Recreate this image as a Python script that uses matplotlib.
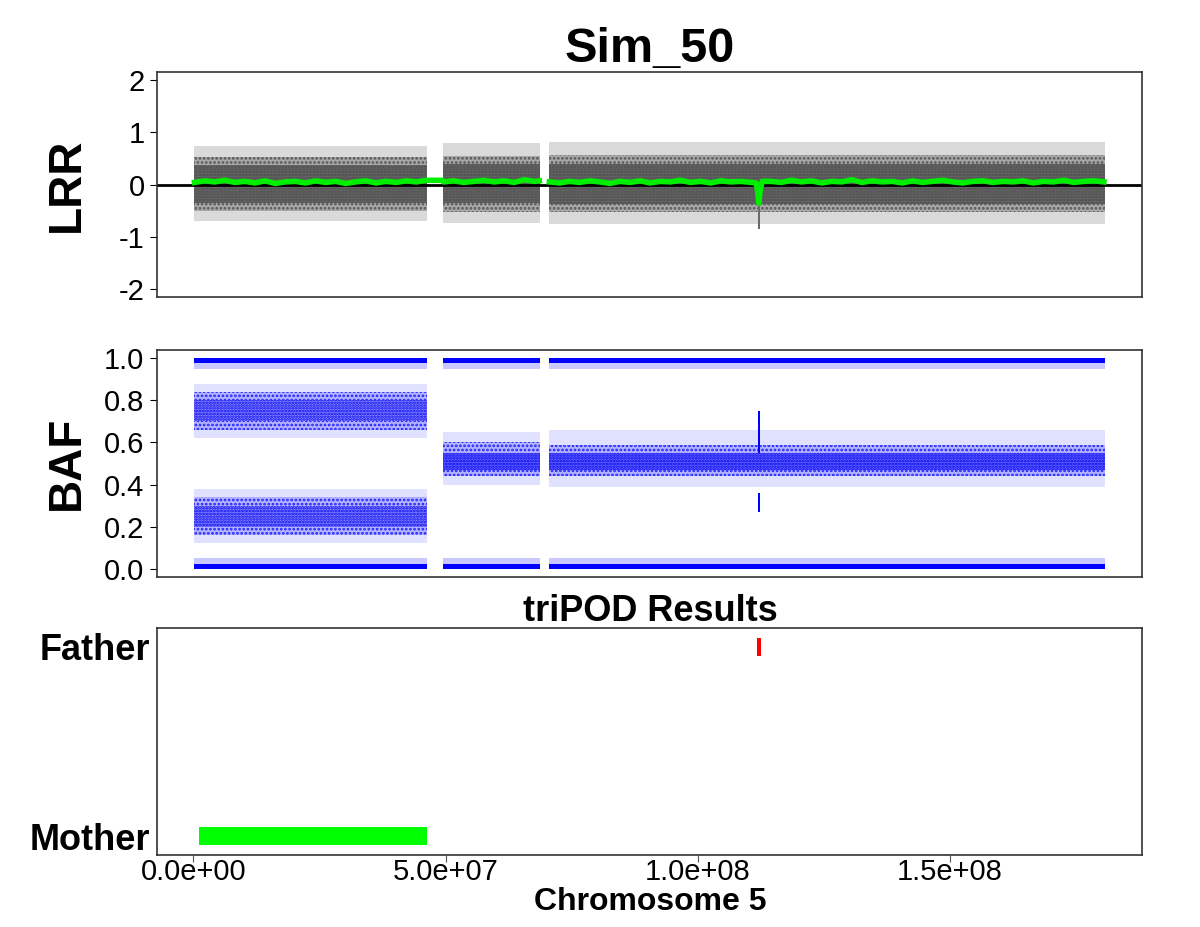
import matplotlib
matplotlib.use("Agg")
import matplotlib.pyplot as plt
import numpy as np

plt.rcParams['font.family'] = ['Liberation Sans', 'DejaVu Sans']
plt.rcParams['hatch.linewidth'] = 1.3

CHROM_LEN = 180.915e6
MB = 1e6

# data segments (Mb) separated by the gaps in probe coverage
seg_start = [0.1, 49.4, 70.6]
seg_end = [46.4, 68.7, 180.9]

# LRR point cloud per segment: dense core, medium band, sparse tails
lrr_core = [(-0.36, 0.38), (-0.36, 0.40), (-0.37, 0.40)]
lrr_mid = [(-0.50, 0.52), (-0.52, 0.55), (-0.53, 0.57)]
lrr_tail = [(-0.70, 0.74), (-0.74, 0.80), (-0.76, 0.82)]
# narrow deletion at ~112 Mb
dip_start, dip_end = 111.9, 112.4
dip_lo = -0.85

# smoothed LRR (green line), nan = break
green_pos = [0.2, 2.2, 4.2, 6.2, 8.2, 10.2, 12.2, 14.2, 16.2, 18.2, 20.2, 22.2,
             24.2, 26.2, 28.2, 30.2, 32.2, 34.2, 36.2, 38.2, 40.2, 42.2, 44.2, 46.2,
             46.4, 49.4,
             49.6, 51.6, 53.6, 55.6, 57.6, 59.6, 61.6, 63.6, 65.6, 67.6, 68.6,
             69.6,
             70.6, 72.6, 74.6, 76.6, 78.6, 80.6, 82.6, 84.6, 86.6, 88.6, 90.6,
             92.6, 94.6, 96.6, 98.6, 100.6, 102.6, 104.6, 106.6, 108.6, 110.6,
             111.6, 111.9, 112.15, 112.4, 112.8,
             114.6, 116.6, 118.6, 120.6, 122.6, 124.6, 126.6, 128.6, 130.6, 132.6,
             134.6, 136.6, 138.6, 140.6, 142.6, 144.6, 146.6, 148.6, 150.6, 152.6,
             154.6, 156.6, 158.6, 160.6, 162.6, 164.6, 166.6, 168.6, 170.6, 172.6,
             174.6, 176.6, 178.6, 180.6]
green_val = [0.04, 0.07, 0.05, 0.08, 0.04, 0.06, 0.03, 0.07, 0.02, 0.05, 0.06, 0.03,
             0.07, 0.04, 0.06, 0.02, 0.05, 0.07, 0.03, 0.06, 0.04, 0.07, 0.05, 0.08,
             0.08, 0.08,
             0.05, 0.07, 0.04, 0.06, 0.08, 0.05, 0.07, 0.04, 0.09, 0.06, 0.07,
             np.nan,
             0.05, 0.03, 0.06, 0.04, 0.07, 0.05, 0.02, 0.06, 0.04, 0.07, 0.03,
             0.06, 0.05, 0.08, 0.04, 0.06, 0.03, 0.07, 0.05, 0.06, 0.04,
             0.03, -0.12, -0.36, -0.12, 0.06,
             0.06, 0.04, 0.08, 0.05, 0.07, 0.03, 0.06, 0.05, 0.09, 0.04,
             0.07, 0.05, 0.06, 0.03, 0.07, 0.04, 0.06, 0.08, 0.05, 0.03,
             0.06, 0.07, 0.04, 0.06, 0.05, 0.07, 0.03, 0.06, 0.05, 0.08,
             0.04, 0.06, 0.07, 0.05]

# BAF bands per segment: (core_lo, core_hi, mid_lo, mid_hi, tail_lo, tail_hi)
baf_bands = [
    [(0.70, 0.80, 0.66, 0.84, 0.62, 0.88), (0.20, 0.30, 0.16, 0.34, 0.12, 0.38)],
    [(0.47, 0.55, 0.44, 0.60, 0.40, 0.65)],
    [(0.47, 0.55, 0.44, 0.59, 0.39, 0.66)],
]
# first segment's split bands are sparser than the 0.5 bands
baf_core_face = ['#8c8cff', '#6a6aff', '#6a6aff']
# homozygous bands at 0 and 1: (solid_lo, solid_hi, sparse_lo, sparse_hi)
baf_hom = [(0.0, 0.022, 0.022, 0.05), (0.978, 1.0, 0.95, 0.978)]
baf_spike = [(0.55, 0.75), (0.27, 0.36)]

# triPOD calls (Mb)
call_parent = ['Father', 'Mother']
call_start = [111.8, 1.1]
call_end = [112.5, 46.4]
call_color = ['#ff0000', '#00ff00']

fig = plt.figure(figsize=(12, 9.27), dpi=100)
W, H = 1200, 927
def axpos(l, t, r, b):
    return [l / W, 1 - b / H, (r - l) / W, (b - t) / H]

ax1 = fig.add_axes(axpos(157, 72, 1142, 297))
ax2 = fig.add_axes(axpos(157, 350, 1142, 577))
ax3 = fig.add_axes(axpos(157, 628, 1142, 855))

xlim = (-0.04 * CHROM_LEN, CHROM_LEN * 1.04)

def band(ax, x0, x1, lo, hi, face, hatch=None, edge='none'):
    ax.fill_between([x0 * MB, x1 * MB], lo, hi, facecolor=face,
                    edgecolor=edge, hatch=hatch, lw=0)

# LRR
for s, e, core, mid, tail in zip(seg_start, seg_end, lrr_core, lrr_mid, lrr_tail):
    band(ax1, s, e, tail[0], tail[1], '#dadada')
    band(ax1, s, e, mid[0], mid[1], '#a8a8a8', '....', '#555555')
    band(ax1, s, e, core[0], core[1], '#6a6a6a', '......', '#4a4a4a')
band(ax1, dip_start, dip_end, dip_lo, lrr_core[2][0], '#6a6a6a')
ax1.axhline(0, color='black', lw=2)
ax1.plot(np.array(green_pos) * MB, green_val, color='#00ee00', lw=4,
         solid_joinstyle='round')
ax1.set_ylim(-2.15, 2.15)
ax1.set_yticks([-2, -1, 0, 1, 2])
ax1.set_yticklabels(['-2', '-1', '0', '1', '2'])

# BAF
for s, e, bands, cface in zip(seg_start, seg_end, baf_bands, baf_core_face):
    for clo, chi, mlo, mhi, tlo, thi in bands:
        band(ax2, s, e, tlo, thi, '#e0e0ff')
        band(ax2, s, e, mlo, mhi, '#b4b4ff', '....', '#2020ff')
        band(ax2, s, e, clo, chi, cface, '......', '#0000ee')
    for slo, shi, plo, phi in baf_hom:
        band(ax2, s, e, plo, phi, '#c8c8ff')
        band(ax2, s, e, slo, shi, '#0000ff')
for lo, hi in baf_spike:
    band(ax2, dip_start, dip_end, lo, hi, '#0000ff')
ax2.set_ylim(-0.04, 1.04)
ax2.set_yticks([0, 0.2, 0.4, 0.6, 0.8, 1.0])
ax2.set_yticklabels(['0.0', '0.2', '0.4', '0.6', '0.8', '1.0'])

# triPOD results
ypos = {'Mother': 1, 'Father': 2}
for p, s, e, c in zip(call_parent, call_start, call_end, call_color):
    ax3.barh(ypos[p], (e - s) * MB, left=s * MB, height=0.095, color=c, lw=0)
ax3.set_ylim(0.9, 2.1)
ax3.set_yticks([1, 2])
ax3.set_yticklabels(['Mother', 'Father'], fontsize=26, fontweight='bold')
ax3.tick_params(axis='y', length=0, pad=5)
ax3.set_xticks([0, 5e7, 1e8, 1.5e8])
ax3.set_xticklabels(['0.0e+00', '5.0e+07', '1.0e+08', '1.5e+08'])
ax3.tick_params(axis='x', labelsize=21, length=5, width=0.8, color='#555555',
                pad=-3)

for ax in (ax1, ax2, ax3):
    ax.set_xlim(xlim)
    for sp in ax.spines.values():
        sp.set_linewidth(1.2)
        sp.set_color('#333333')
for ax in (ax1, ax2):
    ax.set_xticks([])
    ax.tick_params(axis='y', labelsize=21, length=5, width=0.8, pad=4)

fig.text(650 / W, 1 - 62 / H, 'Sim_50', ha='center', va='baseline',
         fontsize=35, fontweight='bold')
fig.text(67 / W, 1 - 185 / H, 'LRR', ha='center', va='center', rotation=90,
         fontsize=33, fontweight='bold')
fig.text(67 / W, 1 - 463 / H, 'BAF', ha='center', va='center', rotation=90,
         fontsize=33, fontweight='bold')
fig.text(650 / W, 1 - 621 / H, 'triPOD Results', ha='center', va='baseline',
         fontsize=26, fontweight='bold')
fig.text(650 / W, 1 - 910 / H, 'Chromosome 5', ha='center', va='baseline',
         fontsize=23, fontweight='bold')

fig.savefig('out.png', dpi=100)
